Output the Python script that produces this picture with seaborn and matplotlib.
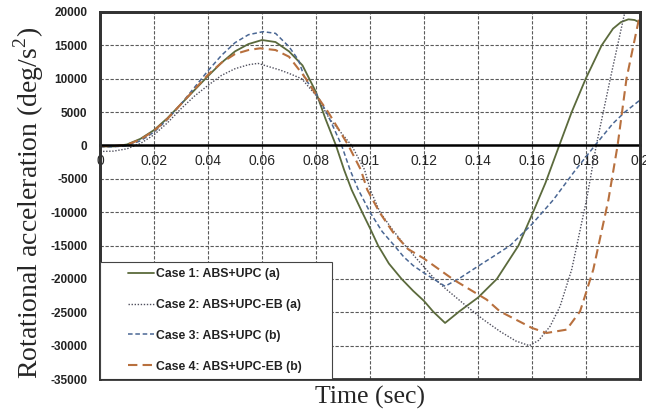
import numpy as np
import pandas as pd
import matplotlib
matplotlib.use("Agg")
import matplotlib.pyplot as plt
from matplotlib.patches import Rectangle
import seaborn as sns

# values
t1 = [0, 0.005, 0.01, 0.015, 0.02, 0.025, 0.03, 0.035, 0.04, 0.045, 0.05, 0.055, 0.06, 0.065, 0.07, 0.075,
      0.08, 0.0835, 0.0874, 0.0904, 0.0932, 0.0971, 0.1, 0.103, 0.107, 0.1117, 0.116, 0.12, 0.1234, 0.1278,
      0.1333, 0.14, 0.147, 0.155, 0.1604, 0.165, 0.1701, 0.1747, 0.1799, 0.1858, 0.19, 0.193, 0.1957, 0.198, 0.2]
case1 = [-150, -150, 150, 1000, 2300, 4100, 6200, 8300, 10400, 12400, 14100, 15200, 15800, 15500, 14100, 12000,
         8000, 4000, 0, -3650, -6650, -10000, -12400, -15000, -17700, -20000, -21800, -23300, -24900, -26600,
         -24800, -22800, -20000, -15000, -10000, -5600, 0, 5000, 10000, 15000, 17500, 18500, 18900, 18800, 18400]

t2 = [0, 0.005, 0.01, 0.015, 0.02, 0.025, 0.03, 0.035, 0.04, 0.045, 0.05, 0.055, 0.0585, 0.0667, 0.07, 0.0747,
      0.08, 0.085, 0.0932, 0.098, 0.1001, 0.1037, 0.1085, 0.113, 0.118, 0.1235, 0.1278, 0.1358, 0.142, 0.1481,
      0.154, 0.159, 0.1625, 0.1667, 0.1704, 0.1747, 0.1802, 0.1838, 0.189, 0.1944, 0.1975]
case2 = [-900, -850, -500, 300, 1600, 3400, 5500, 7400, 9000, 10500, 11500, 12100, 12300, 11300, 10800, 10000,
         7500, 4000, 0, -3650, -6650, -10000, -12700, -15000, -17300, -19800, -21400, -24100, -26100, -27850,
         -29300, -30000, -29200, -27100, -24100, -18600, -8150, 0, 10000, 20000, 25500]

t3 = [0, 0.005, 0.01, 0.015, 0.02, 0.025, 0.03, 0.035, 0.04, 0.045, 0.05, 0.055, 0.0604, 0.065, 0.07, 0.0735,
      0.0759, 0.08, 0.0839, 0.0895, 0.0926, 0.0957, 0.1, 0.1045, 0.109, 0.1125, 0.116, 0.12, 0.1278, 0.1333,
      0.14, 0.146, 0.1519, 0.16, 0.1679, 0.1755, 0.1833, 0.19, 0.1944, 0.2]
case3 = [-200, -200, -50, 700, 2000, 3900, 6200, 8700, 11200, 13500, 15400, 16600, 17050, 16800, 14800, 12800,
         10000, 7800, 5000, 0, -3650, -6650, -10000, -12900, -15000, -16700, -18000, -19100, -21100, -19870,
         -18100, -16550, -15000, -11800, -8150, -4000, 0, 3300, 5000, 6800]

t4 = [0, 0.005, 0.01, 0.015, 0.02, 0.025, 0.03, 0.035, 0.04, 0.045, 0.05, 0.055, 0.0593, 0.065, 0.07, 0.0763,
      0.08, 0.0845, 0.092, 0.0966, 0.099, 0.1035, 0.1085, 0.114, 0.1198, 0.1309, 0.1432, 0.1481, 0.155, 0.16,
      0.1654, 0.1728, 0.1778, 0.1796, 0.1827, 0.1883, 0.1917, 0.195, 0.2]
case4 = [-100, -100, 100, 900, 2200, 4000, 6200, 8400, 10600, 12400, 13700, 14300, 14560, 14300, 13300, 10000,
         7600, 5000, 0, -3650, -6650, -10000, -13000, -15500, -16900, -20100, -23100, -24860, -26300, -27350,
         -28100, -27600, -24860, -22600, -18600, -8150, 0, 10000, 19700]

labels = ["Case 1: ABS+UPC (a)", "Case 2: ABS+UPC-EB (a)", "Case 3: ABS+UPC (b)", "Case 4: ABS+UPC-EB (b)"]
xticks = [0, 0.02, 0.04, 0.06, 0.08, 0.1, 0.12, 0.14, 0.16, 0.18, 0.2]
xtick_labels = ["0", "0.02", "0.04", "0.06", "0.08", "0.1", "0.12", "0.14", "0.16", "0.18", "0.2"]
yticks = list(range(-35000, 20001, 5000))

sns.set_style("white")
plt.rcParams["font.family"] = ["Liberation Sans", "DejaVu Sans"]
plt.rcParams["mathtext.fontset"] = "custom"
plt.rcParams["mathtext.rm"] = "Liberation Serif"

fig, ax = plt.subplots(figsize=(6.46, 4.15), dpi=100)
fig.subplots_adjust(left=0.1548, right=0.9907, top=0.9711, bottom=0.0867)

sns.lineplot(x=t1, y=case1, ax=ax, color="#5b6a3c", lw=1.3, linestyle="-", label=labels[0])
sns.lineplot(x=t2, y=case2, ax=ax, color="#50505e", lw=1.0, linestyle=(0, (1, 1.2)), label=labels[1])
sns.lineplot(x=t3, y=case3, ax=ax, color="#4a6794", lw=1.1, linestyle=(0, (3, 1.8)), label=labels[2])
sns.lineplot(x=t4, y=case4, ax=ax, color="#b8703e", lw=1.5, linestyle=(0, (4.5, 2.5)), label=labels[3])

ax.set_xlim(0, 0.2)
ax.set_ylim(-35000, 20000)
ax.set_xticks(xticks)
ax.set_xticklabels(xtick_labels)
ax.set_yticks(yticks)
ax.set_yticklabels([str(v) for v in yticks])
for lab in ax.get_xticklabels() + ax.get_yticklabels():
    lab.set_fontweight("bold")
    lab.set_fontsize(8.5)
    lab.set_color("#222222")
ax.tick_params(axis="x", length=0, pad=6)
ax.tick_params(axis="y", length=0, pad=9)

ax.grid(True, linestyle=(0, (3, 1.5)), color="#5a5a5a", lw=0.8)
ax.set_axisbelow(True)

# x axis sits on the zero line, the plot keeps a full frame
ax.spines["bottom"].set_position(("data", 0))
ax.spines["bottom"].set_color("black")
ax.spines["bottom"].set_linewidth(1.8)
for s in ["left", "right", "top"]:
    ax.spines[s].set_color("#333333")
    ax.spines[s].set_linewidth(2)
ax.add_patch(Rectangle((0, 0), 1, 1, transform=ax.transAxes, fill=False,
                       edgecolor="#333333", lw=2, clip_on=False, zorder=5))

ax.set_xlabel("Time (sec)", fontsize=18.5, family="Liberation Serif")
ax.xaxis.set_label_coords(0.5, -0.02)
ax.set_ylabel(r"Rotational acceleration (deg/s$^2$)", fontsize=20, family="Liberation Serif")
ax.yaxis.set_label_coords(-0.1, 0.48)

# legend box in the lower left corner
ax.add_patch(Rectangle((0, 0), 0.43, 0.319, transform=ax.transAxes, facecolor="white",
                       edgecolor="#444444", lw=0.8, zorder=6))
leg = ax.legend(loc="center", bbox_to_anchor=(0.212, 0.16), frameon=False,
                prop={"weight": "bold", "size": 8.8}, labelspacing=1.55,
                handlelength=2.2, handletextpad=0.1)
leg.set_zorder(7)
for txt in leg.get_texts():
    txt.set_color("#222222")

fig.savefig("out.png", dpi=100)
